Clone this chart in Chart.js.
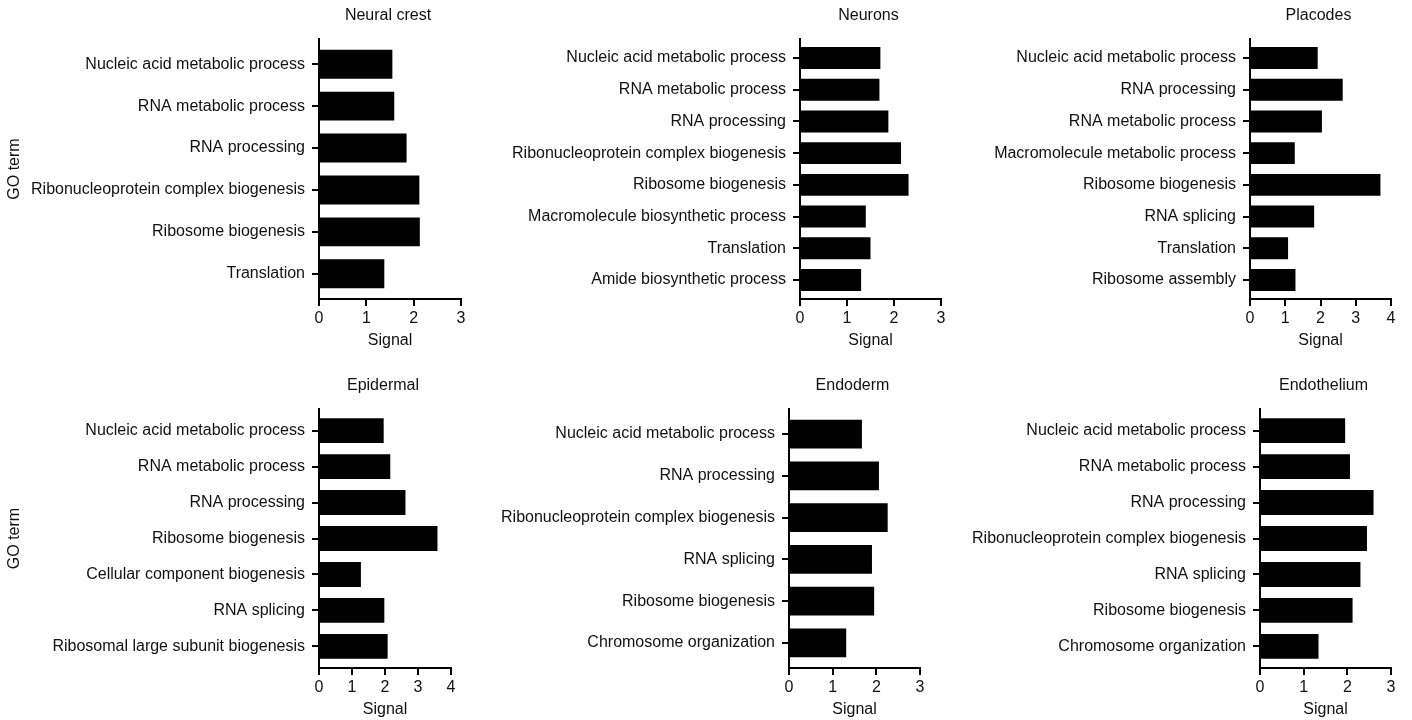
<!DOCTYPE html>
<html>
<head>
<meta charset="utf-8">
<script src="https://cdn.jsdelivr.net/npm/chart.js@4.4.1/dist/chart.umd.min.js"></script>
<style>
  body { margin: 0; background: #fff; width: 1412px; height: 720px; position: relative; overflow: hidden; }
  canvas { position: absolute; }
</style>
</head>
<body>
<script>
// GO terms and signal per cell type
const neuralCrestTerms = ['Nucleic acid metabolic process', 'RNA metabolic process', 'RNA processing',
    'Ribonucleoprotein complex biogenesis', 'Ribosome biogenesis', 'Translation'];
const neuralCrestSignal = [1.55, 1.59, 1.85, 2.12, 2.13, 1.38];

const neuronsTerms = ['Nucleic acid metabolic process', 'RNA metabolic process', 'RNA processing',
    'Ribonucleoprotein complex biogenesis', 'Ribosome biogenesis', 'Macromolecule biosynthetic process',
    'Translation', 'Amide biosynthetic process'];
const neuronsSignal = [1.71, 1.69, 1.88, 2.15, 2.31, 1.40, 1.50, 1.30];

const placodesTerms = ['Nucleic acid metabolic process', 'RNA processing', 'RNA metabolic process',
    'Macromolecule metabolic process', 'Ribosome biogenesis', 'RNA splicing', 'Translation', 'Ribosome assembly'];
const placodesSignal = [1.92, 2.63, 2.04, 1.27, 3.70, 1.82, 1.08, 1.29];

const epidermalTerms = ['Nucleic acid metabolic process', 'RNA metabolic process', 'RNA processing',
    'Ribosome biogenesis', 'Cellular component biogenesis', 'RNA splicing', 'Ribosomal large subunit biogenesis'];
const epidermalSignal = [1.96, 2.16, 2.62, 3.59, 1.27, 1.98, 2.08];

const endodermTerms = ['Nucleic acid metabolic process', 'RNA processing', 'Ribonucleoprotein complex biogenesis',
    'RNA splicing', 'Ribosome biogenesis', 'Chromosome organization'];
const endodermSignal = [1.67, 2.06, 2.26, 1.90, 1.95, 1.31];

const endotheliumTerms = ['Nucleic acid metabolic process', 'RNA metabolic process', 'RNA processing',
    'Ribonucleoprotein complex biogenesis', 'RNA splicing', 'Ribosome biogenesis', 'Chromosome organization'];
const endotheliumSignal = [1.95, 2.06, 2.60, 2.45, 2.30, 2.12, 1.34];

const panelTitles = ['Neural crest', 'Neurons', 'Placodes', 'Epidermal', 'Endoderm', 'Endothelium'];
const signalMax = [3, 3, 4, 4, 3, 3];

// Plot-area boxes in page pixels (left, right, top, bottom)
const panelBoxes = [
    [319, 461, 39, 299], [800, 941, 39, 299], [1250, 1391, 39, 299],
    [319, 451, 409, 668], [789, 920, 409, 668], [1260, 1391, 409, 668]
];

const textColor = '#111';
const fontFamily = '"Liberation Sans", Arial, Helvetica, sans-serif';
Chart.defaults.font.family = fontFamily;
Chart.defaults.font.size = 16;
Chart.defaults.color = textColor;

const Y_AXIS_W = 314;
const X_AXIS_H = 51;
const TOP_PAD = 39;
const RIGHT_PAD = 14;

// Panel title centred over the plot area
const panelTitlePlugin = {
    id: 'panelTitle',
    afterDraw(chart, args, opts) {
        const { ctx, chartArea } = chart;
        ctx.save();
        ctx.font = '16px ' + fontFamily;
        ctx.fillStyle = textColor;
        ctx.textAlign = 'center';
        ctx.textBaseline = 'middle';
        ctx.fillText(opts.text, (chartArea.left + chartArea.right) / 2 - 2, chartArea.top - 23);
        ctx.restore();
    }
};

function makePanel(idx, terms, values) {
    const [L, R, T, B] = panelBoxes[idx];
    const canvas = document.createElement('canvas');
    const w = Y_AXIS_W + (R - L) + RIGHT_PAD;
    const h = TOP_PAD + (B - T) + X_AXIS_H;
    canvas.width = w;
    canvas.height = h;
    canvas.style.left = (L - Y_AXIS_W) + 'px';
    canvas.style.top = (T - TOP_PAD) + 'px';
    document.body.appendChild(canvas);

    const showGoTerm = idx % 3 === 0;

    new Chart(canvas, {
        type: 'bar',
        data: {
            datasets: [{
                data: values.map((v, k) => ({ x: v, y: k })),
                backgroundColor: '#000',
                borderWidth: 0,
                barPercentage: 0.69,
                categoryPercentage: 1
            }]
        },
        options: {
            indexAxis: 'y',
            responsive: false,
            animation: false,
            layout: { padding: { top: TOP_PAD, right: RIGHT_PAD, left: 0, bottom: 0 } },
            plugins: {
                legend: { display: false },
                tooltip: { enabled: false },
                panelTitle: { text: panelTitles[idx] }
            },
            scales: {
                x: {
                    type: 'linear',
                    min: 0,
                    max: signalMax[idx],
                    ticks: { stepSize: 1, padding: 3 },
                    grid: { drawOnChartArea: false, tickLength: 7, color: '#000', lineWidth: 2 },
                    border: { color: '#000', width: 2 },
                    title: { display: true, text: 'Signal', padding: 0 },
                    afterFit: function(scale) { scale.height = X_AXIS_H; }
                },
                y: {
                    type: 'linear',
                    reverse: true,
                    offset: false,
                    min: -0.6,
                    max: terms.length - 0.4,
                    afterBuildTicks: function(scale) {
                        scale.ticks = terms.map((t, k) => ({ value: k }));
                    },
                    ticks: {
                        autoSkip: false,
                        padding: 7,
                        callback: function(value, index) { return terms[index]; }
                    },
                    grid: { offset: false, drawOnChartArea: false, tickLength: 7, color: '#000', lineWidth: 2 },
                    border: { color: '#000', width: 2 },
                    title: { display: showGoTerm, text: 'GO term', padding: 0 },
                    afterFit: function(scale) { scale.width = Y_AXIS_W; }
                }
            }
        },
        plugins: [panelTitlePlugin]
    });
}

makePanel(0, neuralCrestTerms, neuralCrestSignal);
makePanel(1, neuronsTerms, neuronsSignal);
makePanel(2, placodesTerms, placodesSignal);
makePanel(3, epidermalTerms, epidermalSignal);
makePanel(4, endodermTerms, endodermSignal);
makePanel(5, endotheliumTerms, endotheliumSignal);
</script>
</body>
</html>
